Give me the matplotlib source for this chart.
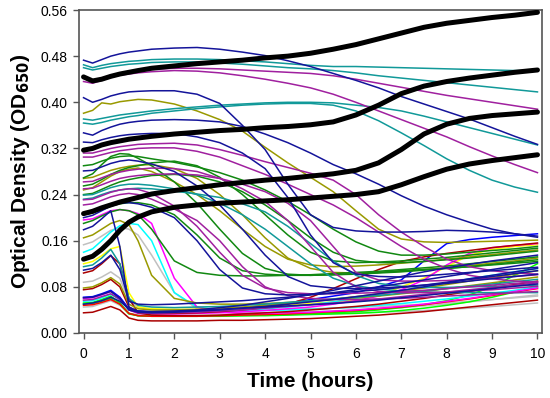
import matplotlib
matplotlib.use("Agg")
import matplotlib.pyplot as plt

plt.rcParams['font.family'] = ['Liberation Sans', 'DejaVu Sans']

hours = [0, 0.2, 0.4, 0.6, 0.8, 1.0, 1.2, 1.5, 2, 2.5, 3, 3.5, 4, 4.5, 5,
         5.5, 6, 6.5, 7, 7.5, 8, 8.5, 9, 9.5, 10]

black_series = [
    [.444,.437,.440,.445,.449,.452,.455,.459,.463,.467,.470,.473,.477,.480,.485,.492,.500,.510,.520,.530,.537,.542,.547,.551,.556],
    [.317,.320,.326,.330,.333,.336,.338,.341,.345,.348,.351,.353,.356,.358,.361,.366,.378,.395,.415,.428,.436,.442,.447,.452,.456],
    [.207,.211,.217,.222,.227,.231,.235,.241,.247,.252,.257,.261,.265,.268,.272,.276,.282,.295,.318,.345,.362,.372,.377,.380,.383],
    [.128,.133,.145,.160,.178,.192,.201,.210,.218,.222,.225,.227,.229,.231,.234,.237,.240,.245,.257,.271,.284,.293,.299,.304,.309],
]

navy_series = [
    [.473,.468,.474,.480,.484,.487,.489,.492,.494,.495,.492,.487,.481,.472,.462,.450,.438,.425,.410,.397,.384,.371,.356,.341,.327],
    [.408,.400,.405,.411,.415,.418,.419,.420,.420,.414,.398,.360,.318,.258,.205,.183,.177,.175,.175,.176,.178,.177,.175,.172,.168],
    [.347,.343,.351,.357,.362,.365,.367,.369,.370,.369,.366,.358,.345,.330,.312,.292,.276,.258,.238,.220,.205,.192,.180,.172,.166],
    [.331,.330,.335,.339,.342,.344,.345,.346,.346,.340,.330,.312,.285,.235,.170,.122,.102,.098,.097,.099,.102,.105,.108,.111,.114],
    [.281,.282,.288,.294,.298,.300,.298,.293,.280,.255,.222,.180,.135,.098,.082,.078,.077,.078,.080,.083,.086,.090,.094,.098,.102],
    [.179,.185,.198,.212,.150,.045,.038,.036,.037,.039,.041,.043,.045,.047,.049,.051,.054,.057,.061,.065,.069,.073,.077,.081,.085],
    [.109,.112,.122,.135,.110,.055,.050,.049,.050,.052,.054,.056,.059,.062,.066,.070,.075,.080,.086,.092,.098,.104,.110,.116,.122],
    [.061,.062,.067,.072,.060,.040,.036,.035,.036,.038,.040,.043,.046,.050,.054,.058,.063,.068,.074,.080,.087,.094,.100,.106,.112],
    [.200,.204,.212,.220,.225,.226,.224,.218,.200,.160,.110,.078,.068,.066,.067,.069,.072,.075,.079,.083,.088,.093,.098,.103,.108],
    [.050,.052,.056,.062,.055,.042,.038,.037,.038,.040,.044,.048,.054,.060,.067,.074,.082,.090,.098,.106,.113,.119,.125,.130,.135],
]

teal_series = [
    [.465,.460,.464,.467,.469,.471,.472,.474,.475,.475,.474,.472,.470,.467,.464,.462,.462,.461,.460,.459,.458,.457,.456,.455,.455],
    [.460,.456,.459,.462,.464,.466,.467,.469,.470,.470,.468,.466,.463,.460,.458,.455,.451,.446,.442,.438,.434,.430,.426,.422,.418],
    [.371,.369,.372,.375,.378,.380,.382,.385,.389,.392,.395,.397,.399,.400,.400,.399,.395,.391,.385,.376,.366,.356,.346,.336,.326],
    [.364,.362,.365,.369,.372,.375,.377,.381,.385,.389,.392,.395,.397,.398,.398,.395,.385,.368,.347,.325,.302,.282,.265,.253,.244],
    [.239,.240,.246,.252,.256,.258,.258,.256,.250,.240,.225,.205,.180,.150,.120,.095,.082,.076,.073,.071,.070,.070,.070,.070,.070],
    [.115,.118,.130,.145,.120,.060,.048,.045,.044,.045,.046,.048,.050,.053,.056,.059,.062,.065,.069,.073,.077,.081,.085,.089,.093],
    [.232,.234,.240,.245,.248,.250,.251,.250,.246,.241,.235,.224,.210,.185,.155,.125,.100,.086,.081,.079,.079,.080,.081,.082,.083],
]

magenta_series = [
    [.442,.437,.442,.447,.450,.453,.455,.457,.459,.459,.458,.456,.454,.452,.450,.446,.440,.433,.426,.419,.412,.406,.400,.394,.388],
    [.436,.433,.438,.443,.447,.449,.451,.453,.455,.454,.451,.446,.440,.433,.425,.414,.400,.385,.370,.355,.340,.323,.307,.292,.278],
    [.312,.312,.316,.320,.323,.325,.327,.328,.329,.326,.318,.308,.297,.287,.277,.265,.240,.205,.175,.150,.128,.115,.108,.104,.102],
    [.305,.305,.309,.313,.316,.318,.320,.321,.321,.315,.305,.290,.275,.258,.240,.222,.200,.175,.150,.128,.112,.100,.094,.090,.088],
    [.231,.232,.238,.244,.248,.250,.249,.242,.220,.185,.140,.100,.078,.070,.068,.068,.069,.070,.072,.074,.077,.080,.083,.086,.089],
    [.222,.224,.230,.236,.240,.242,.240,.232,.215,.195,.160,.115,.080,.065,.060,.058,.058,.059,.060,.062,.064,.066,.068,.070,.072],
    [.057,.058,.063,.068,.058,.040,.035,.034,.035,.036,.038,.040,.043,.046,.049,.052,.055,.059,.063,.067,.071,.075,.079,.083,.087],
    [.262,.263,.269,.275,.279,.282,.284,.286,.285,.280,.268,.250,.228,.195,.150,.105,.080,.072,.070,.070,.071,.073,.075,.078,.081],
    [.250,.251,.257,.263,.268,.271,.273,.275,.276,.274,.268,.258,.245,.225,.195,.150,.105,.092,.090,.090,.091,.093,.095,.098,.101],
]

olive_series = [
    [.381,.386,.399,.397,.401,.403,.405,.404,.397,.385,.370,.350,.322,.295,.270,.245,.212,.180,.163,.158,.157,.158,.159,.160,.161],
    [.248,.252,.262,.272,.280,.284,.286,.280,.262,.240,.212,.180,.150,.128,.118,.115,.116,.118,.121,.124,.128,.132,.136,.140,.144],
    [.165,.170,.180,.190,.195,.188,.160,.100,.060,.052,.050,.050,.051,.053,.055,.058,.061,.064,.068,.072,.077,.082,.087,.092,.097],
    [.078,.080,.087,.096,.085,.050,.042,.040,.040,.041,.043,.045,.048,.051,.055,.059,.063,.068,.073,.078,.084,.090,.096,.102,.108],
    [.268,.270,.276,.282,.286,.289,.291,.292,.285,.268,.240,.205,.165,.130,.112,.105,.104,.105,.107,.110,.113,.117,.121,.125,.130],
]

green_series = [
    [.269,.276,.292,.306,.311,.310,.303,.290,.262,.225,.180,.138,.112,.102,.100,.101,.103,.105,.108,.110,.112,.115,.118,.121,.124],
    [.255,.258,.266,.275,.282,.287,.290,.295,.298,.290,.270,.240,.205,.170,.140,.125,.122,.123,.125,.128,.131,.135,.139,.143,.147],
    [.240,.242,.249,.256,.262,.266,.269,.273,.275,.272,.262,.245,.222,.195,.165,.140,.126,.122,.122,.124,.127,.130,.134,.138,.142],
    [.205,.208,.214,.220,.224,.226,.226,.222,.205,.170,.130,.108,.102,.100,.100,.101,.102,.104,.106,.109,.112,.115,.119,.123,.127],
    [.190,.195,.203,.210,.214,.212,.205,.180,.125,.105,.100,.099,.099,.100,.101,.103,.105,.107,.110,.113,.116,.120,.124,.128,.132],
    [.290,.292,.298,.303,.306,.307,.306,.302,.296,.288,.278,.265,.248,.228,.205,.180,.158,.142,.135,.135,.137,.140,.143,.146,.150],
]

pink_series = [
    [.196,.198,.205,.212,.214,.212,.207,.190,.095,.045,.036,.034,.034,.035,.036,.038,.040,.043,.046,.050,.055,.060,.066,.072,.078],
    [.060,.061,.066,.072,.062,.040,.034,.033,.033,.034,.035,.037,.039,.042,.045,.050,.056,.064,.075,.092,.118,.138,.148,.152,.155],
]

cyan_series = [
    [.140,.146,.160,.175,.186,.190,.188,.160,.070,.045,.040,.039,.039,.040,.041,.043,.045,.048,.051,.055,.059,.064,.069,.074,.080],
    [.055,.056,.061,.067,.058,.040,.036,.035,.035,.036,.037,.039,.042,.045,.049,.054,.060,.066,.073,.080,.087,.094,.100,.106,.112],
]

gray_series = [
    [.153,.158,.168,.178,.183,.180,.170,.135,.070,.042,.037,.035,.035,.036,.037,.038,.040,.042,.044,.047,.050,.054,.058,.062,.066],
    [.088,.090,.097,.106,.095,.055,.045,.040,.038,.038,.038,.039,.040,.041,.042,.043,.044,.046,.048,.050,.052,.055,.058,.061,.064],
    [.045,.046,.051,.056,.048,.034,.032,.031,.031,.031,.031,.032,.032,.033,.033,.034,.035,.036,.037,.039,.041,.043,.046,.049,.052],
]

darkred_series = [
    [.104,.108,.120,.134,.120,.060,.035,.031,.030,.030,.031,.033,.035,.037,.040,.043,.046,.050,.055,.060,.066,.072,.078,.084,.090],
    [.075,.077,.084,.093,.080,.045,.036,.034,.034,.035,.037,.040,.044,.050,.062,.077,.094,.110,.124,.132,.138,.143,.148,.152,.156],
    [.035,.036,.041,.046,.040,.026,.022,.021,.021,.021,.022,.022,.023,.024,.025,.027,.029,.031,.034,.037,.041,.045,.049,.053,.057],
]

yellow_series = [
    [.120,.124,.134,.146,.150,.070,.045,.042,.041,.041,.042,.044,.046,.048,.051,.054,.058,.065,.080,.095,.115,.135,.145,.150,.153],
]

lime_series = [
    [.052,.053,.058,.064,.052,.034,.030,.029,.029,.029,.029,.030,.030,.031,.032,.033,.034,.036,.039,.043,.048,.054,.062,.071,.080],
    [.050,.051,.055,.060,.050,.033,.030,.029,.029,.029,.030,.030,.031,.032,.033,.035,.037,.040,.044,.049,.056,.066,.080,.100,.120],
]

blue_series = [
    [.062,.063,.068,.074,.062,.042,.038,.037,.038,.039,.041,.044,.047,.052,.058,.064,.070,.080,.092,.125,.155,.162,.166,.169,.172],
]

red_series = [
    [.048,.049,.053,.058,.050,.034,.030,.029,.029,.029,.030,.031,.032,.033,.035,.037,.039,.042,.045,.049,.054,.059,.065,.071,.077],
]

x_ticks = [0, 1, 2, 3, 4, 5, 6, 7, 8, 9, 10]
y_ticks = [0.00, 0.08, 0.16, 0.24, 0.32, 0.40, 0.48, 0.56]

groups = [
    (gray_series, '#c0c0c0'),
    (lime_series, '#00ff00'),
    (red_series, '#ff0000'),
    (yellow_series, '#ffff00'),
    (cyan_series, '#00ffff'),
    (pink_series, '#ff00ff'),
    (blue_series, '#0000ff'),
    (darkred_series, '#aa0000'),
    (olive_series, '#999900'),
    (green_series, '#118811'),
    (teal_series, '#119999'),
    (magenta_series, '#a0209f'),
    (navy_series, '#14149a'),
]

fig = plt.figure(figsize=(5.5, 3.98), dpi=100)
ax = fig.add_axes([79/550, 1 - 333/398, (542 - 79)/550, (333 - 10)/398])

for series_list, color in groups:
    for vals in series_list:
        ax.plot(hours, vals, color=color, lw=1.1, solid_joinstyle='round')

for vals in black_series:
    ax.plot(hours, vals, color='black', lw=3.6, solid_capstyle='round', zorder=5)

ax.set_xlim(-0.1, 10.1)
ax.set_ylim(0, 0.56)
ax.set_xticks(x_ticks)
ax.set_yticks(y_ticks)
ax.set_xticklabels([str(v) for v in x_ticks])
ax.set_yticklabels([f"{v:.2f}" for v in y_ticks])
ax.tick_params(axis='both', direction='out', length=4, width=1, color='#555555',
               labelsize=10, pad=4)
ax.tick_params(axis='x', pad=6)
for sp in ax.spines.values():
    sp.set_color('#555555')
    sp.set_linewidth(1.2)

ax.set_xlabel('Time (hours)', fontsize=15, fontweight='bold', labelpad=8)
ax.set_ylabel('Optical Density (OD$_{\\mathbf{650}}$)', fontsize=15, fontweight='bold', labelpad=6)

fig.savefig('out.png', dpi=100)
